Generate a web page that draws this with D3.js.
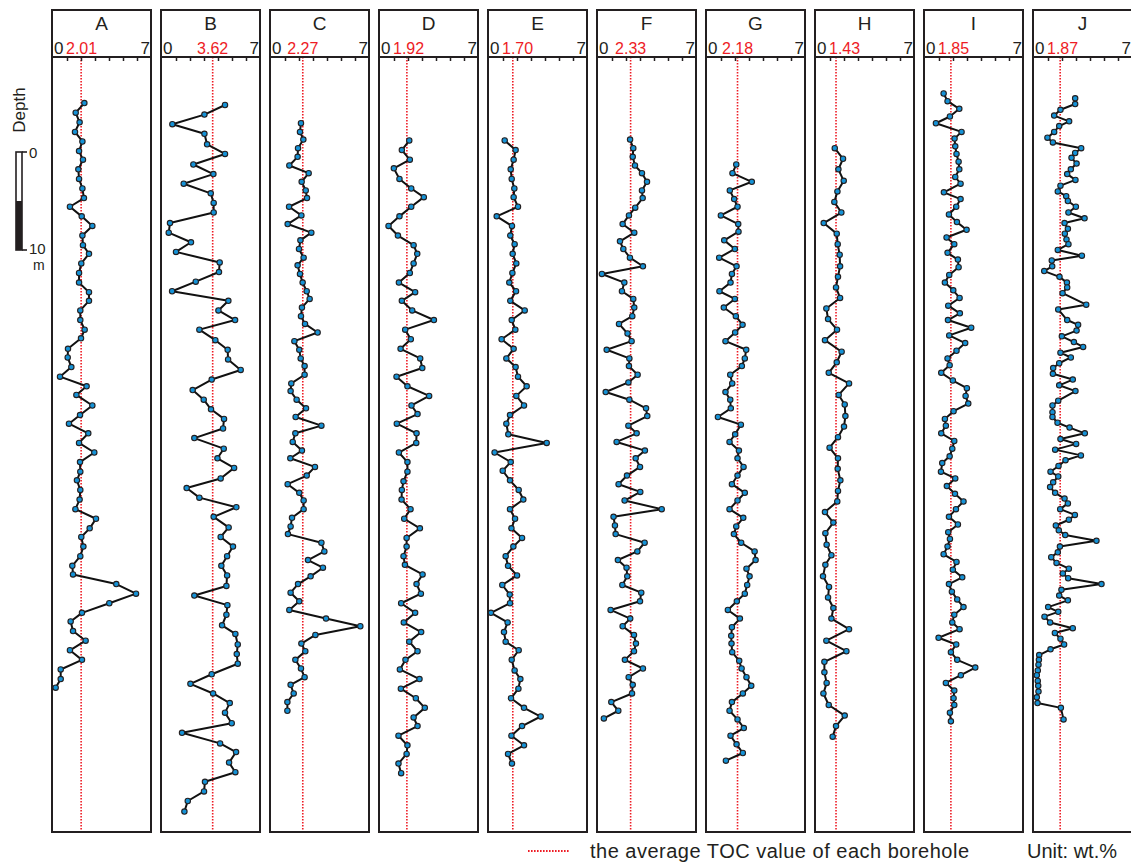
<!DOCTYPE html>
<html>
<head>
<meta charset="utf-8">
<script src="https://cdn.jsdelivr.net/npm/d3@7"></script>
<style>
  body { margin: 0; background: #fff; }
  svg text { font-family: Arial, "Liberation Sans", Helvetica, sans-serif; fill: #231f20; }
</style>
</head>
<body>
<svg id="chart" width="1131" height="863"></svg>
<script>
// borehole names and the average TOC (wt.%) printed on each
const boreholes = ['A', 'B', 'C', 'D', 'E', 'F', 'G', 'H', 'I', 'J'];
const avgTOC = [2.01, 3.62, 2.27, 1.92, 1.70, 2.33, 2.18, 1.43, 1.85, 1.87];
const axisMax = 7;

// depth (m, from top of log) and TOC (wt.%) read for each borehole
const depthA = [4.8,5.8,6.8,7.8,8.8,9.8,10.7,11.7,12.7,13.7,14.7,15.6,16.6,17.6,18.6,19.6,20.5,21.5,22.5,23.5,24.5,25.4,26.4,27.4,28.4,29.3,30.4,31.3,32.3,33.3,34.3,35.2,36.3,37.3,38.2,39.2,40.2,41.2,42.2,43.2,44.1,45.1,46.1,47.1,48.1,49.1,50.0,51.0,52.0,53.0,53.9,54.9,55.9,56.9,57.9,58.8,59.8,60.8,61.8,62.8,63.8,64.8,65.7];
const tocA = [2.24,1.62,1.90,1.57,2.10,1.86,2.14,1.81,1.86,2.10,2.21,1.21,2.05,2.81,2.10,2.14,2.57,2.02,1.86,1.86,2.57,2.57,1.95,1.95,2.26,2.00,1.07,1.05,1.31,0.50,2.40,1.67,2.81,1.93,1.14,2.52,1.86,2.95,1.93,1.95,1.71,1.95,1.90,1.60,3.07,2.62,2.02,2.17,1.95,1.38,1.43,4.52,5.93,4.02,2.07,1.26,1.43,2.33,1.21,2.07,0.55,0.55,0.19];

const depthB = [5.0,6.0,7.0,8.0,9.1,10.1,11.2,12.2,13.2,14.2,15.2,16.2,17.3,18.3,19.3,20.3,21.4,22.4,23.4,24.4,25.4,26.4,27.4,28.4,29.5,30.5,31.5,32.6,33.6,34.7,35.7,36.7,37.7,38.7,39.7,40.8,41.8,42.8,43.9,44.9,45.9,46.9,47.9,49.0,50.0,51.0,52.0,53.0,54.0,55.1,56.1,57.1,58.1,59.2,60.1,61.2,62.2,63.2,64.3,65.3,66.3,67.3,68.3,69.4,70.4,71.5,72.4,73.5,74.5,75.5,76.5,77.5,78.6];
const tocB = [4.50,3.03,0.74,3.03,3.22,4.50,2.24,3.67,1.55,3.48,3.69,3.69,0.57,0.48,2.07,1.00,4.12,4.07,2.41,0.72,4.74,4.03,5.22,2.67,3.81,4.69,4.72,5.62,3.55,2.19,2.98,3.50,4.43,4.36,2.31,4.41,3.96,5.15,4.19,1.76,2.67,5.31,3.69,4.76,4.19,5.07,4.65,4.24,4.65,4.60,2.31,4.67,4.60,4.29,5.24,5.41,5.34,5.41,3.55,2.03,3.65,4.84,4.50,4.98,1.43,4.15,5.29,4.79,5.24,3.07,3.00,1.84,1.60];

const depthC = [6.9,7.8,8.6,9.5,10.4,11.3,12.1,13.0,13.9,14.7,15.6,16.5,17.4,18.3,19.1,20.0,20.9,21.7,22.6,23.5,24.4,25.2,26.1,27.0,27.8,28.7,29.6,30.5,31.4,32.2,33.1,34.0,34.8,35.7,36.6,37.5,38.4,39.2,40.1,41.0,41.8,42.7,43.6,44.5,45.4,46.2,47.1,48.0,48.9,49.7,50.6,51.5,52.4,53.2,54.1,54.9,55.8,56.7,57.6,58.5,59.3,60.2,61.1,61.9,62.8,63.7,64.6,65.4,66.3,67.2,68.1];
const tocC = [2.14,2.07,2.31,1.93,1.90,1.31,2.69,2.19,2.48,2.57,1.29,2.17,1.19,2.88,2.10,2.00,2.33,1.90,2.07,2.26,2.55,2.76,2.21,2.14,2.43,3.33,1.67,2.02,2.12,2.40,2.40,1.45,1.40,1.83,2.50,1.76,3.60,1.74,1.55,2.21,1.38,3.14,2.55,1.19,2.02,2.33,2.33,1.50,1.40,1.21,3.60,3.81,2.64,3.71,2.83,1.93,1.40,2.02,1.31,3.93,6.38,3.17,2.17,2.45,1.74,2.14,2.40,1.40,1.62,1.17,1.17];

const depthD = [8.7,9.7,10.7,11.6,12.7,13.7,14.6,15.6,16.6,17.6,18.6,19.6,20.5,21.5,22.5,23.5,24.5,25.4,26.4,27.4,28.4,29.4,30.4,31.4,32.4,33.3,34.3,35.3,36.3,37.2,38.2,39.2,40.2,41.2,42.2,43.2,44.2,45.1,46.1,47.1,48.1,49.1,50.1,51.0,52.0,52.9,53.9,54.9,55.9,56.9,57.9,58.9,59.9,60.9,61.9,62.8,63.8,64.8,65.8,66.8,67.8,68.8,69.7,70.7,71.7,72.6,73.6,74.6];
const tocD = [2.09,1.56,2.13,0.99,1.39,2.23,3.13,2.23,1.39,0.61,1.28,2.40,2.66,2.40,2.13,1.35,2.51,1.56,2.30,3.85,1.80,2.20,1.47,2.87,3.02,1.18,1.96,3.51,2.25,2.68,1.20,2.61,2.59,1.35,1.96,1.96,1.68,1.56,1.54,2.18,1.73,2.85,1.90,1.90,1.68,1.78,3.04,2.61,2.92,1.51,2.51,1.70,2.94,2.09,2.68,1.82,1.42,2.82,1.49,2.56,3.20,2.40,2.68,1.32,1.96,1.90,1.32,1.51];

const depthE = [8.7,9.7,10.7,11.7,12.7,13.7,14.6,15.6,16.6,17.6,18.6,19.5,20.5,21.5,22.5,23.5,24.4,25.4,26.4,27.4,28.4,29.4,30.4,31.4,32.3,33.3,34.3,35.3,36.3,37.3,38.2,39.3,40.2,41.2,42.2,43.1,44.1,45.1,46.1,47.1,48.1,49.1,50.1,51.0,52.0,53.0,54.0,55.0,56.0,56.9,57.9,58.9,59.9,60.9,61.8,62.8,63.9,64.8,65.8,66.8,67.8,68.7,69.7,70.7,71.7,72.6,73.6];
const tocE = [1.12,1.90,1.76,1.55,1.62,1.81,1.76,2.07,0.55,1.64,1.52,1.83,1.69,1.95,1.67,1.45,1.93,1.52,2.55,1.62,1.88,0.90,1.76,1.24,1.90,2.07,2.69,1.95,2.50,1.50,1.24,1.38,4.12,0.40,1.55,0.98,1.50,2.12,2.45,1.50,1.86,1.60,2.36,1.74,1.19,1.36,2.00,0.95,1.48,1.50,0.14,1.33,1.07,1.19,2.12,1.62,1.83,2.24,2.10,1.57,2.50,3.69,2.36,1.60,2.50,1.36,1.64];

const depthF = [8.6,9.5,10.4,11.3,12.1,13.0,13.9,14.7,15.7,16.5,17.4,18.3,19.2,20.0,20.9,21.8,22.6,23.5,24.4,25.2,26.1,27.0,27.8,28.8,29.6,30.5,31.4,32.2,33.1,33.9,34.9,35.7,36.6,37.4,38.4,39.2,40.1,41.0,41.8,42.7,43.6,44.5,45.3,46.2,47.1,47.9,48.8,49.7,50.6,51.5,52.4,53.2,54.1,55.0,55.8,56.7,57.6,58.5,59.3,60.2,61.1,61.9,62.8,63.7,64.6,65.4,66.3,67.2,68.1,68.9];
const tocF = [2.29,2.52,2.48,2.64,3.14,3.50,3.14,3.19,2.66,2.21,1.76,2.59,1.57,1.81,2.28,3.21,0.28,1.88,1.71,2.52,2.59,2.45,1.50,2.11,2.40,0.62,2.24,2.21,2.83,2.17,0.55,2.24,3.43,3.52,2.17,2.76,1.33,3.35,2.69,3.00,2.07,1.47,3.02,1.90,4.55,1.11,1.21,1.26,3.33,2.81,1.42,2.04,2.09,1.74,3.09,3.00,0.90,2.30,1.76,2.57,2.71,2.57,1.92,3.21,2.19,2.48,2.43,0.95,1.45,0.42];

const depthG = [11.2,12.1,13.0,13.9,14.8,15.6,16.5,17.4,18.2,19.1,20.0,20.9,21.8,22.6,23.5,24.4,25.2,26.1,27.0,27.9,28.7,29.6,30.5,31.4,32.2,33.1,34.0,34.9,35.7,36.6,37.5,38.3,39.3,40.1,41.0,41.8,42.7,43.6,44.5,45.4,46.2,47.1,48.0,48.9,49.7,50.6,51.5,52.4,53.3,54.1,55.0,55.9,56.7,57.6,58.5,59.4,60.3,61.1,62.0,62.9,63.7,64.6,65.5,66.3,67.2,68.1,69.0,69.9,70.7,71.6,72.5,73.3];
const tocG = [2.09,1.82,3.20,1.63,1.94,2.18,0.99,2.23,2.25,1.23,1.99,0.87,2.11,1.78,1.68,0.89,1.99,1.20,2.06,2.54,2.01,1.32,2.80,2.70,2.49,1.66,1.80,1.32,1.66,1.70,0.78,2.42,2.01,1.61,2.28,2.18,2.61,2.18,1.78,2.70,2.18,1.61,2.59,2.09,1.92,2.44,3.40,3.47,2.82,3.04,2.87,2.70,2.13,1.49,2.35,1.78,1.73,1.75,1.80,2.30,2.47,2.82,3.16,2.56,1.78,1.61,2.18,2.63,1.68,2.11,2.56,1.35];

const depthH = [9.5,10.6,11.7,12.9,14.0,15.1,16.2,17.3,18.4,19.5,20.6,21.8,22.9,24.0,25.1,26.2,27.3,28.4,29.5,30.7,31.8,32.9,34.0,35.2,36.2,37.4,38.5,39.6,40.7,41.8,42.9,44.1,45.2,46.3,47.4,48.5,49.6,50.8,51.9,52.9,54.1,55.2,56.3,57.4,58.5,59.6,60.8,61.9,63.0,64.1,65.2,66.3,67.5,68.6,69.7,70.8];
const tocH = [1.34,1.93,1.60,1.98,1.53,1.31,1.81,0.55,1.48,1.55,1.69,1.72,1.57,1.43,1.72,0.74,0.86,1.50,0.64,1.83,1.48,0.91,2.36,1.62,2.05,2.10,2.00,1.57,0.97,1.57,1.55,1.74,1.57,1.52,0.64,1.24,0.67,0.76,1.10,0.67,0.50,0.93,0.86,1.24,1.10,2.36,0.74,2.17,0.60,0.60,0.76,0.53,0.91,2.05,1.43,1.19];

const depthI = [3.8,4.6,5.4,6.2,6.9,7.8,8.5,9.3,10.1,10.9,11.7,12.5,13.2,14.1,14.8,15.6,16.4,17.2,18.0,18.8,19.5,20.4,21.1,21.9,22.7,23.5,24.3,25.1,25.9,26.7,27.4,28.2,29.0,29.8,30.6,31.4,32.1,32.9,33.7,34.5,35.3,36.1,36.9,37.7,38.4,39.2,40.0,40.8,41.6,42.3,43.2,43.9,44.7,45.5,46.3,47.1,47.9,48.7,49.5,50.2,51.0,51.8,52.6,53.4,54.2,54.9,55.7,56.5,57.3,58.1,58.9,59.6,60.5,61.2,62.0,62.8,63.6,64.4,65.2,66.0,66.8,67.5,68.3,69.2];
const tocI = [1.33,1.61,2.45,1.78,0.78,2.61,2.11,2.16,2.25,2.40,2.45,2.16,2.54,1.35,2.54,2.23,1.71,2.28,2.97,1.54,2.09,1.61,2.35,2.40,1.73,1.42,2.02,2.47,1.66,2.49,1.64,3.30,1.73,2.87,2.25,1.61,1.76,1.16,1.99,2.99,2.90,3.09,2.04,1.42,1.49,1.16,2.09,1.95,1.76,1.23,1.14,2.16,1.56,2.14,2.75,2.21,1.71,2.35,1.66,1.78,1.61,1.33,2.25,1.99,2.66,1.71,1.92,2.30,2.75,2.09,1.95,2.47,0.97,2.23,1.85,2.30,3.59,2.56,1.49,2.09,2.04,2.09,1.78,1.85];

const depthJ = [4.3,4.9,5.5,6.1,6.7,7.2,7.8,8.4,8.9,9.5,10.0,10.5,11.1,11.7,12.2,12.8,13.4,14.0,14.5,15.0,15.6,16.2,16.8,17.3,17.9,18.4,19.0,19.5,20.1,20.7,21.2,21.8,22.3,22.9,23.5,24.0,24.6,25.8,26.3,27.4,27.9,28.5,29.1,29.7,30.2,30.8,31.3,31.9,32.4,33.0,33.6,34.2,34.8,35.8,36.3,37.0,37.5,38.1,38.6,39.2,39.8,40.3,40.9,41.5,42.0,42.6,43.2,43.7,44.3,44.8,45.4,46.0,46.5,47.1,47.7,48.2,48.8,49.3,49.8,50.4,51.0,51.6,52.1,52.7,53.3,53.8,54.3,54.9,55.5,56.1,56.6,57.3,57.8,58.3,58.9,59.5,60.0,60.6,61.2,61.7,62.3,62.8,63.3,63.9,64.4,65.0,65.5,66.1,66.7,67.3,67.8,69.0];
const tocJ = [2.94,2.94,1.89,1.44,2.51,1.80,1.44,0.96,1.35,3.37,2.94,2.68,3.04,2.63,2.37,2.96,1.89,1.70,2.30,2.42,2.99,2.46,3.61,2.18,2.42,2.20,2.32,2.46,1.70,3.42,1.27,1.30,0.73,1.82,2.35,2.37,2.04,3.73,1.73,2.37,3.15,3.04,1.99,2.85,3.51,1.89,2.63,1.80,1.37,1.35,2.77,1.80,2.96,1.73,1.32,1.32,1.32,1.68,2.54,3.63,1.89,3.01,1.51,3.35,2.25,1.75,1.18,1.73,1.37,1.15,1.51,2.18,2.42,1.87,2.92,2.49,1.56,1.77,2.23,4.46,1.85,1.70,1.23,1.61,2.49,2.06,2.44,4.82,1.96,1.80,2.42,1.01,1.73,0.75,1.15,2.77,1.49,1.89,2.15,1.18,0.37,0.35,0.32,0.27,0.20,0.27,0.30,0.32,0.20,0.25,1.92,2.11];

const depths = [depthA, depthB, depthC, depthD, depthE, depthF, depthG, depthH, depthI, depthJ];
const tocs = [tocA, tocB, tocC, tocD, tocE, tocF, tocG, tocH, tocI, tocJ];

const ink = '#231f20';
const red = '#ee1c25';
const dotBlue = '#1592d6';

const svg = d3.select('#chart');

// shared depth scale: 10 m ~ 96 px
const y = d3.scaleLinear().domain([0, 80.73]).range([57, 832]);

const panelTop = 10, headBottom = 57, panelBottom = 832, panelW = 99, pitch = 109, firstLeft = 52;

boreholes.forEach((name, i) => {

    const left = firstLeft + i * pitch;
    const x = d3.scaleLinear().domain([0, axisMax]).range([left + 1, left + panelW]);
    const g = svg.append('g');

    // average line first, so the profile sits above it
    g.append('line')
        .attr('x1', x(avgTOC[i])).attr('x2', x(avgTOC[i]))
        .attr('y1', headBottom).attr('y2', panelBottom)
        .attr('stroke', red).attr('stroke-width', 1.6)
        .attr('stroke-dasharray', '1.6,1.4');

    // header ticks 1..6
    const axis = d3.axisBottom(x)
        .tickValues(d3.range(1, axisMax))
        .tickSize(4)
        .tickFormat('');
    const ax = g.append('g')
        .attr('transform', `translate(0,${headBottom})`)
        .call(axis);
    ax.select('.domain').remove();
    ax.selectAll('.tick line').attr('stroke', ink).attr('stroke-width', 1.5);

    // frame and header divider
    g.append('rect')
        .attr('x', left).attr('y', panelTop)
        .attr('width', panelW).attr('height', panelBottom - panelTop)
        .attr('fill', 'none').attr('stroke', ink).attr('stroke-width', 2);
    g.append('line')
        .attr('x1', left).attr('x2', left + panelW)
        .attr('y1', headBottom).attr('y2', headBottom)
        .attr('stroke', ink).attr('stroke-width', 2);

    g.append('text')
        .attr('x', left + panelW / 2).attr('y', 30)
        .attr('text-anchor', 'middle')
        .attr('font-size', 19)
        .text(name);

    g.append('text')
        .attr('x', left + 2).attr('y', 54)
        .attr('font-size', 17)
        .text('0');
    g.append('text')
        .attr('x', left + panelW - 1).attr('y', 54)
        .attr('text-anchor', 'end')
        .attr('font-size', 17)
        .text(axisMax);

    const avgLabel = g.append('text')
        .attr('y', 54)
        .attr('font-size', 16)
        .style('fill', red)
        .text(avgTOC[i].toFixed(2));
    const w = avgLabel.node().getComputedTextLength();
    avgLabel.attr('x', Math.max(x(avgTOC[i]) - w / 2, left + 14));

    // TOC profile
    const pts = d3.zip(tocs[i], depths[i]);
    const line = d3.line()
        .x(d => x(d[0]))
        .y(d => y(d[1]));

    g.append('path')
        .datum(pts)
        .attr('d', line)
        .attr('fill', 'none')
        .attr('stroke', '#111')
        .attr('stroke-width', 2)
        .attr('stroke-linejoin', 'round');

    g.selectAll('circle')
        .data(pts)
        .join('circle')
        .attr('cx', d => x(d[0]))
        .attr('cy', d => y(d[1]))
        .attr('r', 2.7)
        .attr('fill', dotBlue)
        .attr('stroke', ink)
        .attr('stroke-width', 1.1);
});

// depth label and 10 m scale bar
svg.append('text')
    .attr('transform', 'translate(25,110) rotate(-90)')
    .attr('text-anchor', 'middle')
    .attr('font-size', 17)
    .text('Depth');

const bar = svg.append('g');
bar.append('rect')
    .attr('x', 16).attr('y', y(10) - 1)
    .attr('width', 6).attr('height', y(20) - y(10) + 2)
    .attr('fill', '#fff').attr('stroke', ink).attr('stroke-width', 1.6);
bar.append('rect')
    .attr('x', 16).attr('y', y(15))
    .attr('width', 6).attr('height', y(20) - y(15) + 1)
    .attr('fill', ink);
[y(10) - 1, y(20) + 1].forEach(py => {
    bar.append('line')
        .attr('x1', 22).attr('x2', 27)
        .attr('y1', py).attr('y2', py)
        .attr('stroke', ink).attr('stroke-width', 1.6);
});
bar.append('text').attr('x', 29).attr('y', y(10) + 5).attr('font-size', 15).text('0');
bar.append('text').attr('x', 29).attr('y', y(20) + 5).attr('font-size', 15).text('10');
bar.append('text').attr('x', 33).attr('y', y(20) + 21).attr('font-size', 14).text('m');

// legend
svg.append('line')
    .attr('x1', 528).attr('x2', 569)
    .attr('y1', 851).attr('y2', 851)
    .attr('stroke', red).attr('stroke-width', 1.8)
    .attr('stroke-dasharray', '1.6,1.4');
svg.append('text')
    .attr('x', 590).attr('y', 858)
    .attr('font-size', 20)
    .attr('textLength', 379)
    .text('the average TOC value of each borehole');
svg.append('text')
    .attr('x', 1027).attr('y', 858)
    .attr('font-size', 20)
    .text('Unit: wt.%');
</script>
</body>
</html>
